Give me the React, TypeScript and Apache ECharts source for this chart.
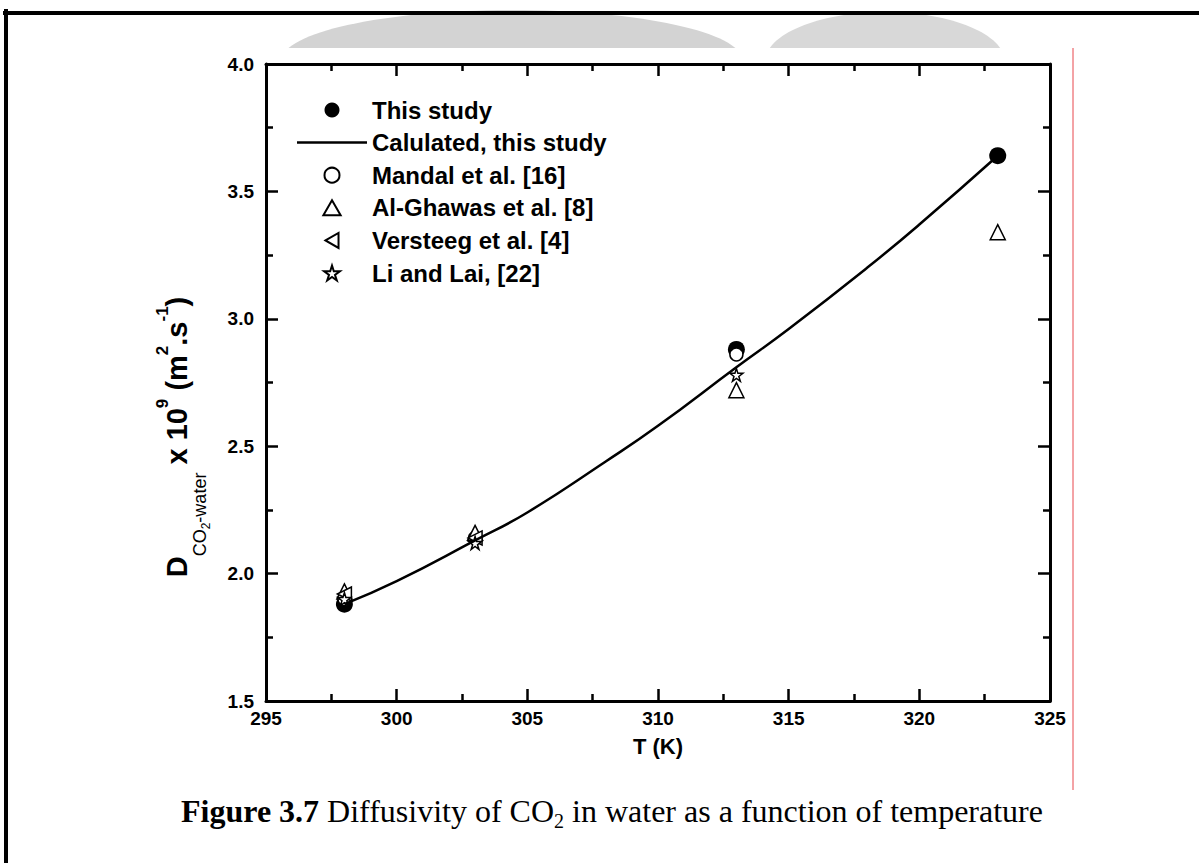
import React, { useEffect, useRef } from "react";
import * as echarts from "echarts";

// ---- data ----
const thisStudyT = [298, 313, 323];
const thisStudyD = [1.88, 2.88, 3.64];
const calcT = [298, 300, 303, 305, 308, 310, 313, 315, 318, 320, 323];
const calcD = [1.88, 1.97, 2.13, 2.24, 2.44, 2.58, 2.81, 2.96, 3.2, 3.37, 3.64];
const mandalT = [298, 303, 313];
const mandalD = [1.9, 2.14, 2.86];
const ghawasT = [298, 303, 313, 323];
const ghawasD = [1.93, 2.16, 2.72, 3.34];
const versteegT = [298, 303];
const versteegD = [1.92, 2.14];
const liT = [298, 303, 313];
const liD = [1.9, 2.12, 2.78];

const seriesNames = [
  "This study",
  "Calulated, this study",
  "Mandal et al. [16]",
  "Al-Ghawas et al. [8]",
  "Versteeg et al. [4]",
  "Li and Lai, [22]",
];

const xMin = 295, xMax = 325, xStep = 5;
const yMin = 1.5, yMax = 4.0, yStep = 0.5;

const pairs = (xs: number[], ys: number[]) => xs.map((x, i) => [x, ys[i]]);

const FONT = "'Liberation Sans', Arial, sans-serif";
const SERIF = "'Liberation Serif', 'Times New Roman', serif";

const STAR = "path://M50,0 L61,35 L98,35 L68,57 L79,91 L50,70 L21,91 L32,57 L2,35 L39,35 Z";
const LEFT_TRI = "path://M0,50 L87,0 L87,100 Z";
const UP_TRI = "path://M50,0 L100,87 L0,87 Z";
const LINE_ICON = "path://M0,0 L70,0 L70,2.5 L0,2.5 Z";

const hollow = { color: "#fff", borderColor: "#000", borderWidth: 1.5, opacity: 1 };

export default function App() {
  const ref = useRef<HTMLDivElement>(null);
  useEffect(() => {
    if (!ref.current) return;
    const chart = echarts.init(ref.current, undefined, { renderer: "svg" });
    const axisCommon = {
      axisLine: { show: true, onZero: false, lineStyle: { color: "#000", width: 3 } },
      axisTick: { show: true, inside: true, length: 12, lineStyle: { color: "#000", width: 2.5 } },
      minorTick: { show: true, splitNumber: 2, length: 7, lineStyle: { color: "#000", width: 2.5 } },
      splitLine: { show: false },
      minorSplitLine: { show: false },
    };
    const labelStyle = { color: "#000", fontSize: 19, fontWeight: "bold", fontFamily: FONT };
    chart.setOption({
      animation: false,
      backgroundColor: "#fff",
      grid: { left: 266, right: 149, top: 64, bottom: 162, containLabel: false },
      legend: {
        orient: "vertical",
        left: 297,
        top: 98,
        padding: 0,
        itemWidth: 70,
        itemHeight: 15,
        itemGap: 8.6,
        data: [
          { name: seriesNames[0] },
          { name: seriesNames[1], icon: LINE_ICON, itemStyle: { color: "#000" } },
          { name: seriesNames[2] },
          { name: seriesNames[3] },
          { name: seriesNames[4] },
          { name: seriesNames[5] },
        ],
        textStyle: { color: "#000", fontSize: 24, fontWeight: "bold", fontFamily: FONT, lineHeight: 22 },
      },
      xAxis: [
        {
          type: "value", min: xMin, max: xMax, interval: xStep, position: "bottom",
          ...axisCommon,
          axisLabel: { ...labelStyle, margin: 8 },
        },
        {
          type: "value", min: xMin, max: xMax, interval: xStep, position: "top",
          ...axisCommon,
          axisLabel: { show: false },
        },
      ],
      yAxis: [
        {
          type: "value", min: yMin, max: yMax, interval: yStep, position: "left",
          ...axisCommon,
          axisLabel: { ...labelStyle, margin: 12, formatter: (v: number) => v.toFixed(1) },
        },
        {
          type: "value", min: yMin, max: yMax, interval: yStep, position: "right",
          ...axisCommon,
          axisLabel: { show: false },
        },
      ],
      series: [
        {
          name: seriesNames[0], type: "scatter", data: pairs(thisStudyT, thisStudyD),
          symbol: "circle", symbolSize: 17, itemStyle: { color: "#000", opacity: 1 },
        },
        {
          name: seriesNames[1], type: "line", data: pairs(calcT, calcD), smooth: true,
          symbol: "none", showSymbol: false, lineStyle: { color: "#000", width: 2.5 },
          itemStyle: { color: "#000" },
        },
        {
          name: seriesNames[2], type: "scatter", data: pairs(mandalT, mandalD),
          symbol: "circle", symbolSize: 13, itemStyle: hollow,
        },
        {
          name: seriesNames[3], type: "scatter", data: pairs(ghawasT, ghawasD),
          symbol: UP_TRI, symbolSize: 15, itemStyle: hollow,
        },
        {
          name: seriesNames[4], type: "scatter", data: pairs(versteegT, versteegD),
          symbol: LEFT_TRI, symbolSize: 14, itemStyle: hollow,
        },
        {
          name: seriesNames[5], type: "scatter", data: pairs(liT, liD),
          symbol: STAR, symbolSize: 13, itemStyle: hollow,
        },
      ],
      graphic: [
        // faint watermark, only visible in the strip above the figure
        { type: "ellipse", z: -30, shape: { cx: 512, cy: 60, rx: 230, ry: 50 }, style: { fill: "#d3d3d3" } },
        { type: "ellipse", z: -30, shape: { cx: 885, cy: 62, rx: 120, ry: 50 }, style: { fill: "#d8d8d8" } },
        // white page below the strip
        { type: "rect", z: -20, shape: { x: 0, y: 48, width: 1199, height: 815 }, style: { fill: "#fff" } },
        // red margin line
        { type: "line", z: -10, shape: { x1: 1073, y1: 48, x2: 1073, y2: 790 }, style: { stroke: "#e8474c", lineWidth: 1 } },
        // page border
        { type: "rect", z: 10, shape: { x: 3, y: 11, width: 1196, height: 4 }, style: { fill: "#000" } },
        { type: "rect", z: 10, shape: { x: 4, y: 9, width: 4, height: 854 }, style: { fill: "#000" } },
        // y axis title
        {
          type: "text", z: 10, x: 154, y: 437, rotation: Math.PI / 2,
          style: {
            text: "{m|D}{s|CO}{ss|2}{s|-water}{m| x 10}{p|9}{m| (m}{p|2}{m|.s}{p|-1}{m|)}",
            textAlign: "center", textVerticalAlign: "top", fill: "#000",
            rich: {
              m: { fontSize: 29, fontWeight: "bold", fontFamily: FONT, lineHeight: 34, padding: [8, 0, 0, 0], verticalAlign: "top", fill: "#000" },
              p: { fontSize: 17, fontWeight: "bold", fontFamily: FONT, lineHeight: 18, verticalAlign: "top", fill: "#000" },
              s: { fontSize: 18, fontWeight: "normal", fontFamily: FONT, lineHeight: 18, padding: [37, 0, 0, 0], verticalAlign: "top", fill: "#000" },
              ss: { fontSize: 12, fontWeight: "normal", fontFamily: FONT, lineHeight: 12, padding: [46, 0, 0, 0], verticalAlign: "top", fill: "#000" },
            },
          },
        },
        // x axis title
        {
          type: "text", z: 10, x: 658, y: 746,
          style: { text: "T (K)", textAlign: "center", textVerticalAlign: "middle", fill: "#000", fontSize: 22, fontWeight: "bold", fontFamily: FONT },
        },
        // caption
        {
          type: "text", z: 10, x: 612, y: 813,
          style: {
            text: "{b|Figure 3.7}{r| Diffusivity of CO}{sub|2}{r| in water as a function of temperature}",
            textAlign: "center", textVerticalAlign: "middle", fill: "#000",
            rich: {
              b: { fontSize: 32, fontWeight: "bold", fontFamily: SERIF, lineHeight: 36, verticalAlign: "top", fill: "#000" },
              r: { fontSize: 32, fontFamily: SERIF, lineHeight: 36, verticalAlign: "top", fill: "#000" },
              sub: { fontSize: 20, fontFamily: SERIF, lineHeight: 20, padding: [16, 0, 0, 0], verticalAlign: "top", fill: "#000" },
            },
          },
        },
      ],
    });
    return () => chart.dispose();
  }, []);
  return <div ref={ref} style={{ position: "absolute", left: 0, top: 0, width: 1199, height: 863 }} />;
}
